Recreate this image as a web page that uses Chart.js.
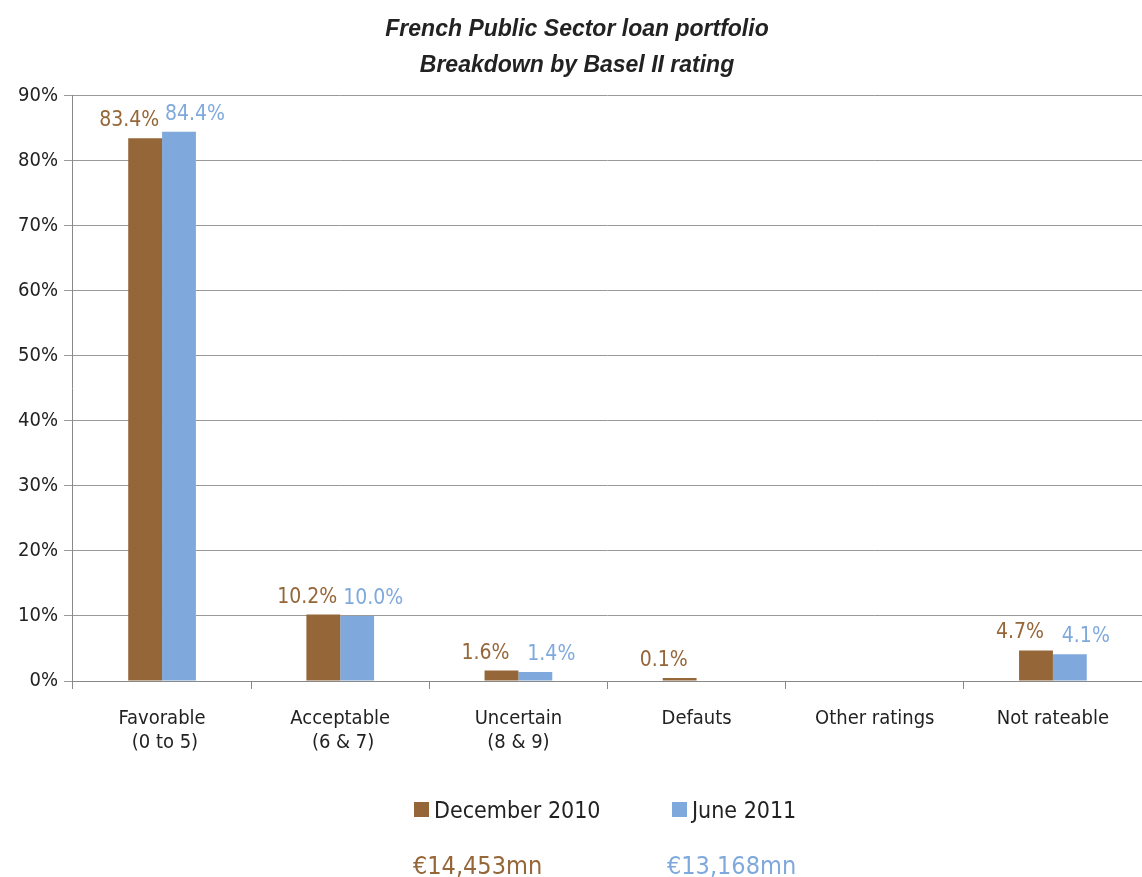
<!DOCTYPE html>
<html>
<head>
<meta charset="utf-8">
<script src="https://cdn.jsdelivr.net/npm/chart.js@4.4.1/dist/chart.umd.min.js"></script>
<style>
  html, body { margin: 0; padding: 0; background: #fff; }
  #wrap { position: relative; width: 1142px; height: 877px; font-family: "Liberation Sans Narrow", "DejaVu Sans Condensed", "Liberation Sans", sans-serif; }
  #chart { position: absolute; left: 0; top: 0; }
  .legend { position: absolute; top: 797px; font-size: 23px; color: #222; white-space: nowrap; }
  .legend .box { display: inline-block; width: 15px; height: 15px; margin-right: 5px; vertical-align: 1px; }
  .total { position: absolute; top: 851px; font-size: 25px; white-space: nowrap; }
</style>
</head>
<body>
<div id="wrap">
  <canvas id="chart" width="1142" height="877"></canvas>
  <div class="legend" style="left:414px"><span class="box" style="background:#956638"></span>December 2010</div>
  <div class="legend" style="left:672px"><span class="box" style="background:#7FA9DC"></span>June 2011</div>
  <div class="total" style="left:413px;color:#956638">€14,453mn</div>
  <div class="total" style="left:667px;color:#7FA9DC">€13,168mn</div>
</div>
<script>
// Breakdown by Basel II rating
const categories = [['Favorable', ' (0 to 5)'], ['Acceptable', ' (6 & 7)'], ['Uncertain', '(8 & 9)'], ['Defauts'], ['Other ratings'], ['Not rateable']];
const dec2010 = [83.4, 10.2, 1.6, 0.1, null, 4.7];
const jun2011 = [84.4, 10.0, 1.4, null, null, 4.1];
const yTicks = [0, 10, 20, 30, 40, 50, 60, 70, 80, 90];

const brown = '#956638';
const blue = '#7FA9DC';
const fontFamily = '"Liberation Sans Narrow", "DejaVu Sans Condensed", "Liberation Sans", sans-serif';

// value labels above each bar
const valueLabels = {
    id: 'valueLabels',
    afterDatasetsDraw(chart) {
        const ctx = chart.ctx;
        ctx.save();
        ctx.font = '21px ' + fontFamily;
        ctx.textAlign = 'center';
        ctx.textBaseline = 'bottom';
        chart.data.datasets.forEach((ds, i) => {
            const meta = chart.getDatasetMeta(i);
            const shift = i === 0 ? -16 : 16;
            ctx.fillStyle = ds.backgroundColor;
            meta.data.forEach((bar, j) => {
                const v = ds.data[j];
                if (v === null || v === undefined) return;
                ctx.fillText(v.toFixed(1) + '%', bar.x + shift, bar.y - 7);
            });
        });
        ctx.restore();
    }
};

new Chart(document.getElementById('chart'), {
    type: 'bar',
    data: {
        labels: categories,
        datasets: [{
            label: 'December 2010',
            data: dec2010,
            backgroundColor: brown,
            categoryPercentage: 0.38,
            barPercentage: 1.0,
            minBarLength: 3
        }, {
            label: 'June 2011',
            data: jun2011,
            backgroundColor: blue,
            categoryPercentage: 0.38,
            barPercentage: 1.0,
            minBarLength: 3
        }]
    },
    options: {
        responsive: false,
        animation: false,
        layout: {
            padding: { left: 12, right: 0, top: 12, bottom: 104 }
        },
        plugins: {
            legend: { display: false },
            tooltip: { enabled: false },
            title: {
                display: true,
                text: ['French Public Sector loan portfolio', 'Breakdown by Basel II rating'],
                color: '#222',
                font: { family: 'Arial, "Liberation Sans", sans-serif', size: 23, style: 'italic', weight: 'bold', lineHeight: 1.55 },
                padding: { top: 0, bottom: 12 }
            }
        },
        scales: {
            x: {
                grid: {
                    offset: true,
                    drawOnChartArea: false,
                    color: '#888',
                    tickLength: 8
                },
                border: { color: '#888' },
                ticks: {
                    color: '#222',
                    font: { family: fontFamily, size: 20 },
                    padding: 18,
                    maxRotation: 0
                }
            },
            y: {
                min: 0,
                max: 90,
                afterBuildTicks(axis) {
                    axis.ticks = yTicks.map(v => ({ value: v }));
                },
                grid: {
                    color: '#999',
                    tickLength: 9
                },
                border: { color: '#888' },
                ticks: {
                    color: '#222',
                    font: { family: fontFamily, size: 20 },
                    padding: 6,
                    callback: v => v + '%'
                }
            }
        }
    },
    plugins: [valueLabels]
});
</script>
</body>
</html>
